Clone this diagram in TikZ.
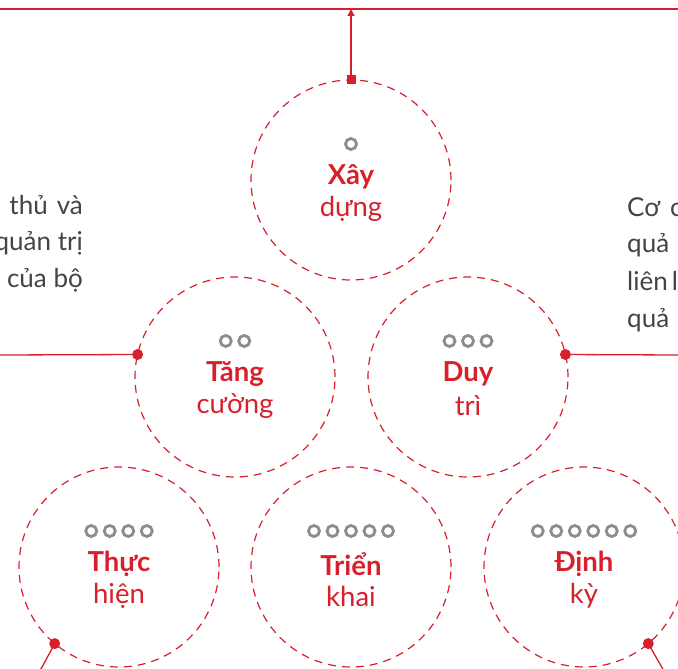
\documentclass[tikz,border=0pt]{standalone}
\usepackage{fontspec}
\setmainfont{Lato}
\usetikzlibrary{arrows.meta,calc}
\definecolor{brandred}{HTML}{D7202B}
\definecolor{bodygray}{HTML}{444444}
\definecolor{ringgray}{HTML}{8C8C8C}
\tikzset{
  stage/.style={circle, draw=brandred, dashed, dash pattern=on 8pt off 6pt,
    line width=1.2pt, minimum size=200pt, inner sep=0pt, outer sep=0pt},
  link/.style={draw=brandred, line width=1.3pt},
  ring/.style={circle, draw=ringgray, line width=2.8pt, minimum size=11pt,
    inner sep=0pt},
  title/.style={font=\fontsize{27.5}{30}\selectfont\bfseries, text=brandred},
  subtitle/.style={font=\fontsize{27.5}{30}\selectfont, text=brandred},
  body/.style={font=\fontsize{26}{30}\selectfont, text=bodygray, inner sep=0pt},
  dot/.style={circle, fill=brandred, minimum size=11pt, inner sep=0pt},
}
% a row of rings above a label: #1 = count, #2 = centre
\newcommand{\ringrow}[2]{%
  \foreach \k in {1,...,#1} {
    \node[ring] at ($(#2)+({(\k-(#1+1)/2)*18.5},-36)$) {};
  }%
}
\begin{document}
\begin{tikzpicture}[x=1pt,y=-1pt]
\useasboundingbox (0,0) rectangle (678,669);
\clip (0,0) rectangle (678,669);

% stage circles
\node[stage] (c1) at (351,180) {};
\node[stage] (c2) at (235,377) {};
\node[stage] (c3) at (468,377) {};
\node[stage] (c4) at (119,567) {};
\node[stage] (c5) at (351,567) {};
\node[stage] (c6) at (584,567) {};

% labels
\foreach \c/\n/\a/\b in {c1/1/Xây/dựng, c2/2/Tăng/cường, c3/3/Duy/trì,
                          c4/4/Thực/hiện, c5/5/Triển/khai, c6/6/Định/kỳ} {
  \ringrow{\n}{\c}
  \node[title] (\c t) at ($(\c)+(0,-3)$) {\a};
  \node[subtitle] (\c s) at ($(\c)+(0,29)$) {\b};
}

% top rail and riser
\coordinate (railL) at (0,9);
\coordinate (railR) at (678,9);
\draw[link] (railL) -- (railR);
\coordinate (railM) at (351,9);
\draw[link, -{Triangle[length=7pt,width=7pt]}] (c1.north) -- (railM);
\node[fill=brandred, minimum size=9pt, inner sep=0pt] (sq) at (c1.north) {};

% side rails
\coordinate (leftEnd) at (0,355);
\coordinate (rightEnd) at (678,355);
\draw[link] (leftEnd) -- (c2.167);
\draw[link] (c3.13) -- (rightEnd);
\node[dot] (d2) at (c2.167) {};
\node[dot] (d3) at (c3.13) {};

% lower leads
\coordinate (lowL) at (35,680);
\coordinate (lowR) at (672,685);
\draw[link] (c4.230) -- (lowL);
\draw[link] (c6.310) -- (lowR);
\node[dot] (d4) at (c4.230) {};
\node[dot] (d6) at (c6.310) {};

% side text (justified paragraphs running past the edges)
\node[body, anchor=base east] (l1) at (83,214) {thủ\hspace*{9pt}và};
\node[body, anchor=base east] (l2) at (83,250) {quản trị};
\node[body, anchor=base east] (l3) at (83,287) {của bộ};
\node[body, anchor=base west] (r1) at (627,216) {Cơ\hspace*{10pt}c};
\node[body, anchor=base west] (r2) at (627,252) {quả};
\node[body, anchor=base west] (r3) at (627,290) {liên\hspace*{4pt}l};
\node[body, anchor=base west] (r4) at (627,327) {quả\hspace*{8pt}l};
\end{tikzpicture}
\end{document}
